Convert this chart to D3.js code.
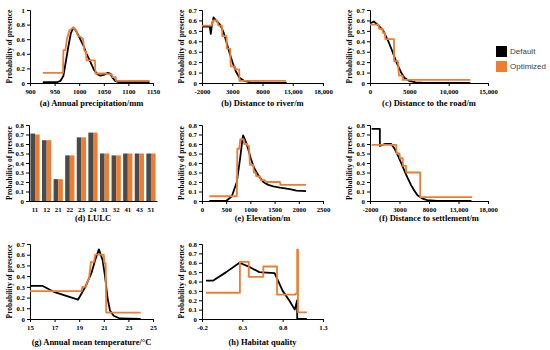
<!DOCTYPE html>
<html>
<head>
<meta charset="utf-8">
<script src="https://cdn.jsdelivr.net/npm/d3@7"></script>
<style>
  body { margin: 0; background: #fff; }
  text { font-family: "Liberation Serif", "Times New Roman", serif; font-weight: bold; fill: #000; }
  .legend text { font-family: "Liberation Sans", Arial, sans-serif; font-weight: normal; fill: #404040; }
</style>
</head>
<body>
<div id="chart"></div>
<script>
// ---- data ----
// (a) annual precipitation
const precipDefault = [[926,0.01],[955,0.01],[962,0.03],[968,0.1],[973,0.3],[978,0.5],[983,0.68],[988,0.76],[993,0.72],[1000,0.63],[1008,0.52],[1015,0.4],[1022,0.3],[1030,0.18],[1037,0.12],[1043,0.1],[1050,0.11],[1058,0.14],[1063,0.13],[1068,0.07],[1073,0.03],[1080,0.01],[1143,0.01]];
const precipOptimized = [[926,0.14],[967,0.14],[968,0.45],[972,0.45],[975,0.6],[980,0.72],[988,0.76],[994,0.72],[997,0.65],[1003,0.63],[1008,0.6],[1010,0.45],[1014,0.42],[1015,0.31],[1032,0.31],[1033,0.13],[1055,0.13],[1060,0.12],[1066,0.12],[1068,0.08],[1074,0.08],[1075,0.03],[1143,0.03]];
const precipTicks = [900,950,1000,1050,1100,1150];

// (b) distance to river
const riverDefault = [[-2000,0.54],[-700,0.54],[-550,0.47],[-400,0.54],[-100,0.63],[300,0.6],[1000,0.56],[1600,0.48],[2100,0.38],[2600,0.28],[3100,0.19],[3600,0.11],[4200,0.05],[5000,0.02],[6000,0.005],[12000,0]];
const riverOptimized = [[-2000,0.55],[-400,0.55],[-200,0.6],[500,0.6],[700,0.55],[1300,0.55],[1350,0.45],[2050,0.45],[2100,0.33],[2650,0.33],[2750,0.16],[3450,0.16],[3500,0.13],[4150,0.13],[4200,0.02],[11900,0.02]];
const distTicks = [-2000,3000,8000,13000,18000];
const distLabels = ["-2000","3000","8000","13,000","18,000"];

// (c) distance to the road
const roadDefault = [[0,0.57],[490,0.59],[1100,0.55],[1700,0.5],[2330,0.4],[2860,0.3],[3350,0.2],[3960,0.1],[4370,0.05],[5000,0.02],[5800,0.005],[7000,0],[12750,0]];
const roadOptimized = [[0,0.56],[1100,0.56],[1150,0.52],[1600,0.52],[1650,0.48],[1900,0.48],[1950,0.42],[3050,0.42],[3060,0.21],[3550,0.21],[3680,0.07],[4150,0.07],[4170,0.03],[12750,0.03]];
const roadTicks = [0,5000,10000,15000];
const roadLabels = ["0","5000","10,000","15,000"];

// (d) LULC
const lulcClasses = ["11","12","21","22","23","24","31","32","41","43","51"];
const lulcDefault = [0.71,0.64,0.23,0.48,0.67,0.72,0.50,0.48,0.50,0.50,0.50];
const lulcOptimized = [0.70,0.64,0.23,0.48,0.67,0.72,0.50,0.48,0.50,0.50,0.50];

// (e) elevation
const elevDefault = [[150,0],[500,0],[616,0.05],[720,0.2],[788,0.45],[836,0.65],[850,0.69],[925,0.6],[1007,0.45],[1075,0.35],[1164,0.27],[1267,0.2],[1370,0.17],[1472,0.155],[1610,0.14],[1815,0.125],[1952,0.11],[2150,0.105]];
const elevOptimized = [[150,0.05],[720,0.05],[730,0.55],[770,0.55],[790,0.65],[860,0.65],[870,0.6],[930,0.6],[950,0.58],[970,0.58],[990,0.38],[1060,0.38],[1070,0.3],[1110,0.3],[1120,0.26],[1200,0.26],[1210,0.22],[1300,0.22],[1320,0.2],[1610,0.2],[1620,0.17],[2150,0.17]];
const elevTicks = [0,500,1000,1500,2000,2500];

// (f) distance to settlement
const settleDefault = [[-1720,0.76],[-330,0.76],[-330,0.58],[500,0.6],[1600,0.6],[2170,0.55],[2720,0.48],[3280,0.4],[3830,0.32],[4390,0.24],[4940,0.17],[5500,0.11],[6050,0.06],[6890,0.025],[7720,0.01],[9390,0],[15200,0]];
const settleOptimized = [[-1700,0.59],[2440,0.59],[2500,0.5],[3000,0.5],[3100,0.45],[3550,0.45],[3600,0.37],[4100,0.37],[4150,0.3],[6500,0.3],[6520,0.04],[15300,0.04]];

// (g) annual mean temperature
const tempDefault = [[15,0.31],[16,0.31],[17,0.25],[18.9,0.18],[19.5,0.3],[20,0.43],[20.3,0.55],[20.6,0.65],[20.9,0.55],[21.1,0.4],[21.3,0.2],[21.5,0.08],[21.8,0.03],[22.3,0.005],[24,0]];
const tempOptimized = [[15,0.26],[19.2,0.26],[19.25,0.3],[19.55,0.3],[19.6,0.33],[19.8,0.38],[19.95,0.53],[20.2,0.53],[20.3,0.6],[21.0,0.6],[21.05,0.52],[21.15,0.52],[21.2,0.06],[24.0,0.06]];
const tempTicks = [15,17,19,21,23,25];

// (h) habitat quality
const habitatDefault = [[-0.15,0.41],[-0.06,0.41],[0.1,0.5],[0.265,0.6],[0.4,0.55],[0.51,0.5],[0.7,0.49],[0.8,0.3],[0.88,0.2],[0.95,0.1],[0.98,0.2],[0.98,0],[1.1,0]];
const habitatOptimized = [[-0.15,0.28],[0.27,0.28],[0.27,0.61],[0.38,0.61],[0.38,0.45],[0.56,0.45],[0.56,0.56],[0.73,0.56],[0.73,0.26],[0.96,0.26],[0.96,0.27],[0.98,0.27],[0.98,0.74],[0.99,0.74],[0.99,0.07],[1.1,0.07]];
const habitatTicks = [-0.2,0.3,0.8,1.3];

const seriesNames = ["Default","Optimized"];
const colors = { Default: "#000000", Optimized: "#ed7d31", bar: "#4a4a4a" };

// ---- layout ----
const rows = [ {top: 10, bottom: 83, titleY: 106}, {top: 125, bottom: 201, titleY: 221}, {top: 244, bottom: 319, titleY: 345} ];
const cols = [ {left: 30, right: 153, labelX: 9}, {left: 202, right: 323, labelX: 181}, {left: 370, right: 488, labelX: 349} ];

const svg = d3.select('#chart').append('svg')
    .attr('width', 550)
    .attr('height', 350);

function styleAxis(sel) {
    sel.select('.domain').attr('stroke', '#000').attr('stroke-width', 1);
    sel.selectAll('.tick line').attr('stroke', '#000');
    sel.selectAll('.tick text').attr('font-size', 6.8).attr('fill', '#000');
}

function frame(p, x, y, yTicks, yFmt) {
    const g = svg.append('g');
    g.append('g')
        .attr('transform', `translate(0,${p.bottom})`)
        .call(p.xAxis)
        .call(styleAxis);
    g.append('g')
        .attr('transform', `translate(${p.left},0)`)
        .call(d3.axisLeft(y).tickValues(yTicks).tickFormat(yFmt).tickSize(3).tickPadding(2))
        .call(styleAxis);
    // y title
    g.append('text')
        .attr('transform', `translate(${p.labelX},${(p.top + p.bottom) / 2}) rotate(-90)`)
        .attr('text-anchor', 'middle')
        .attr('dy', '0.35em')
        .attr('font-size', 7.5)
        .text('Probability of presence');
    // panel title
    g.append('text')
        .attr('x', (p.left + p.right) / 2)
        .attr('y', p.titleY)
        .attr('text-anchor', 'middle')
        .attr('font-size', 8.5)
        .text(p.title);
    return g;
}

function linePanel(p) {
    const x = d3.scaleLinear().domain(p.xDomain).range([p.left, p.right]);
    const y = d3.scaleLinear().domain([0, p.yMax]).range([p.bottom, p.top]);
    const yTicks = d3.range(0, p.yMax + 1e-9, p.yStep);
    p.xAxis = d3.axisBottom(x).tickValues(p.xTicks).tickSize(3).tickPadding(3)
        .tickFormat((d, i) => p.xLabels ? p.xLabels[i] : d);
    const g = frame(p, x, y, yTicks, d => d === 0 ? '0' : d3.format('.1~f')(d));

    const line = d3.line().x(d => x(d[0])).y(d => y(d[1]));
    g.append('path')
        .datum(p.def)
        .attr('d', line)
        .attr('fill', 'none')
        .attr('stroke', colors.Default)
        .attr('stroke-width', 1.8)
        .attr('stroke-linejoin', 'round');
    g.append('path')
        .datum(p.opt)
        .attr('d', line)
        .attr('fill', 'none')
        .attr('stroke', colors.Optimized)
        .attr('stroke-width', 1.8)
        .attr('stroke-linejoin', 'round');
}

function barPanel(p) {
    const x0 = d3.scaleBand().domain(lulcClasses).range([p.left, p.right]).paddingInner(0.2).paddingOuter(0.12);
    const x1 = d3.scaleBand().domain(seriesNames).range([0, x0.bandwidth()]);
    const y = d3.scaleLinear().domain([0, 0.8]).range([p.bottom, p.top]);
    p.xAxis = d3.axisBottom(x0).tickSize(0).tickPadding(6);
    const g = frame(p, x0, y, d3.range(0, 0.8001, 0.1), d => d === 0 ? '0' : d3.format('.1f')(d));

    const rowsData = lulcClasses.map((c, i) => ({ cls: c, Default: lulcDefault[i], Optimized: lulcOptimized[i] }));
    const grp = g.insert('g', ':first-child').selectAll('g')
        .data(rowsData)
        .enter()
        .append('g')
        .attr('transform', d => `translate(${x0(d.cls)},0)`);
    grp.selectAll('rect')
        .data(d => seriesNames.map(k => ({ key: k, value: d[k] })))
        .enter()
        .append('rect')
        .attr('x', d => x1(d.key))
        .attr('width', x1.bandwidth())
        .attr('y', d => y(d.value))
        .attr('height', d => p.bottom - y(d.value))
        .attr('fill', d => d.key === 'Default' ? colors.bar : colors.Optimized);
}

linePanel({ ...rows[0], ...cols[0], title: '(a) Annual precipitation/mm', xDomain: [900, 1150], xTicks: precipTicks, yMax: 1, yStep: 0.2, def: precipDefault, opt: precipOptimized });
linePanel({ ...rows[0], ...cols[1], title: '(b) Distance to river/m', xDomain: [-2000, 18000], xTicks: distTicks, xLabels: distLabels, yMax: 0.7, yStep: 0.1, def: riverDefault, opt: riverOptimized });
linePanel({ ...rows[0], ...cols[2], title: '(c) Distance to the road/m', xDomain: [0, 15000], xTicks: roadTicks, xLabels: roadLabels, yMax: 0.7, yStep: 0.1, def: roadDefault, opt: roadOptimized });
barPanel({ ...rows[1], ...cols[0], left: 29, right: 157, title: '(d) LULC' });
linePanel({ ...rows[1], ...cols[1], title: '(e) Elevation/m', xDomain: [0, 2500], xTicks: elevTicks, yMax: 0.8, yStep: 0.1, def: elevDefault, opt: elevOptimized });
linePanel({ ...rows[1], ...cols[2], title: '(f) Distance to settlement/m', xDomain: [-2000, 18000], xTicks: distTicks, xLabels: distLabels, yMax: 0.8, yStep: 0.1, def: settleDefault, opt: settleOptimized });
linePanel({ ...rows[2], ...cols[0], title: '(g) Annual mean temperature/°C', xDomain: [15, 25], xTicks: tempTicks, yMax: 0.7, yStep: 0.1, def: tempDefault, opt: tempOptimized });
linePanel({ ...rows[2], ...cols[1], title: '(h) Habitat quality', xDomain: [-0.2, 1.3], xTicks: habitatTicks, yMax: 0.8, yStep: 0.1, def: habitatDefault, opt: habitatOptimized });

// legend
const legend = svg.append('g').attr('class', 'legend').attr('transform', 'translate(496,46)');
seriesNames.forEach((name, i) => {
    legend.append('rect')
        .attr('x', 0).attr('y', i * 15)
        .attr('width', 11).attr('height', 11)
        .attr('fill', colors[name]);
    legend.append('text')
        .attr('x', 14).attr('y', i * 15 + 5.5)
        .attr('dy', '0.35em')
        .attr('font-size', 8)
        .text(name);
});
</script>
</body>
</html>
